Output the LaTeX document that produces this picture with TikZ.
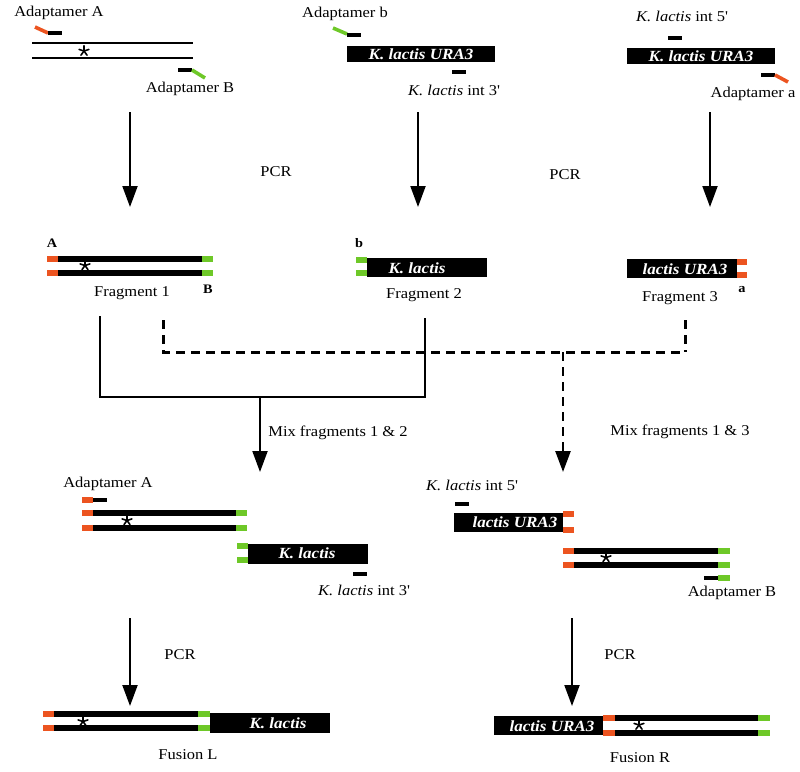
\documentclass[tikz,border=0pt]{standalone}
\usepackage{fontspec}
\setmainfont{Liberation Serif}[FakeStretch=1.1]
\usetikzlibrary{arrows.meta}
\definecolor{orn}{RGB}{236,84,32}
\definecolor{grn}{RGB}{110,200,40}
\newcommand\seg[4]{\fill[#4] (#1,#3-2.7) rectangle (#2,#3+2.7);}
\newcommand\prim[3]{\fill[#3] (#1,#2-2.2) rectangle (#1+14,#2+2.2);}
\begin{document}
\begin{tikzpicture}[x=1pt,y=-1pt,
  lbl/.style={font=\fontsize{15}{18}\selectfont, inner sep=0},
  sml/.style={font=\bfseries\fontsize{13}{15}\selectfont, inner sep=0},
  kbox/.style={fill=black, draw=none, inner sep=0, minimum height=19pt},
  ktxt/.style={text=white, font=\bfseries\itshape\fontsize{15.5}{18}\selectfont, inner sep=0},
  astar/.pic={\foreach \a in {90,162,234,306,18} \draw[line width=1.6pt, line cap=round] (0,0) -- (\a:5.2pt);},
  tailA/.style={line width=3.6pt},
  thinl/.style={line width=1.5pt},
  conn/.style={line width=2pt},
  dconn/.style={line width=3pt, dash pattern=on 9pt off 6pt},
  arr/.style={line width=2pt, -{Triangle[length=21pt,width=15pt]}}
]
\useasboundingbox (0,0) rectangle (800,771);

% ---------- top left ----------
\node[lbl] (adA) at (59,13) {Adaptamer A};
\draw[tailA, orn] (35,27) -- (48,33);
\prim{48}{33}{black}
\draw[thinl] (32,43) -- (193,43);
\draw[thinl] (32,58) -- (193,58);
\pic at (84,51) {astar};
\prim{178}{70}{black}
\draw[tailA, grn] (192,70) -- (205,78);
\node[lbl] (adB) at (190,89) {Adaptamer B};

% ---------- top middle ----------
\node[lbl] (adb) at (345,14) {Adaptamer b};
\draw[tailA, grn] (333,28) -- (347,34);
\prim{347}{35}{black}
\node[kbox, minimum width=148pt, minimum height=16pt] (boxT2) at (421,54) {};
\node[ktxt] (txtT2) at (421,54) {K. lactis URA3};
\prim{452}{72}{black}
\node[lbl] (int3a) at (454,90) {\textit{K. lactis} int 3\textquotesingle};

% ---------- top right ----------
\node[lbl] (int5a) at (682,16) {\textit{K. lactis} int 5\textquotesingle};
\prim{668}{38}{black}
\node[kbox, minimum width=148pt, minimum height=16pt] (boxT3) at (701,56) {};
\node[ktxt] (txtT3) at (701,56) {K. lactis URA3};
\prim{761}{75}{black}
\draw[tailA, orn] (775,75) -- (788,82);
\node[lbl] (ada) at (753,94) {Adaptamer a};

% ---------- PCR arrows ----------
\coordinate (a1s) at (130,112); \coordinate (a1e) at (130,207);
\coordinate (a2s) at (418,112); \coordinate (a2e) at (418,207);
\coordinate (a3s) at (710,112); \coordinate (a3e) at (710,207);
\draw[arr] (a1s) -- (a1e);
\draw[arr] (a2s) -- (a2e);
\draw[arr] (a3s) -- (a3e);
\node[lbl] (pcr1) at (276,172) {PCR};
\node[lbl] (pcr2) at (565,175) {PCR};

% ---------- Fragment 1 ----------
\node[sml] (lA) at (52,243) {A};
\seg{47}{58}{259}{orn}\seg{58}{202}{259}{black}\seg{202}{213}{259}{grn}
\seg{47}{58}{273}{orn}\seg{58}{202}{273}{black}\seg{202}{213}{273}{grn}
\pic at (85,265.5) {astar};
\node[sml] (lB) at (208,289) {B};
\node[lbl] (fr1) at (132,293) {Fragment 1};

% ---------- Fragment 2 ----------
\node[sml] (lb) at (359,243) {b};
\seg{356}{367}{260}{grn}\seg{356}{367}{273}{grn}
\node[kbox, minimum width=120pt] (boxF2) at (427,267.5) {};
\node[ktxt] (txtF2) at (417,268) {K. lactis};
\node[lbl] (fr2) at (424,295) {Fragment 2};

% ---------- Fragment 3 ----------
\node[kbox, minimum width=110pt] (boxF3) at (682,268.5) {};
\node[ktxt] (txtF3) at (685,269) {lactis URA3};
\seg{737}{747}{262}{orn}\seg{737}{747}{275}{orn}
\node[sml] (la) at (742,290) {a};
\node[lbl] (fr3) at (680,298) {Fragment 3};

% ---------- mixing connectors ----------
\coordinate (s1) at (100,316); \coordinate (s1b) at (100,397);
\coordinate (s2) at (425,318); \coordinate (s2b) at (425,397);
\coordinate (sm) at (260,397); \coordinate (sme) at (260,472);
\draw[conn] (s1) -- (s1b) -- (s2b) -- (s2);
\draw[arr] (sm) -- (sme);
\coordinate (d1) at (163,320); \coordinate (d1b) at (163,352);
\coordinate (d3) at (685,320); \coordinate (d3b) at (685,352);
\coordinate (dm) at (563,352); \coordinate (dme) at (563,472);
\draw[dconn] (d1) -- (d1b) -- (d3b);
\draw[dconn] (d3) -- (d3b);
\draw[dconn, line width=2.5pt, -{Triangle[length=21pt,width=15pt]}] (dm) -- (dme);
\node[lbl] (mix12) at (338,433) {Mix fragments 1 \& 2};
\node[lbl] (mix13) at (680,432) {Mix fragments 1 \& 3};

% ---------- mix left ----------
\node[lbl] (adA2) at (108,484) {Adaptamer A};
\seg{82}{93}{500}{orn}\fill (93,497.8) rectangle (107,502.2);
\seg{82}{93}{513}{orn}\seg{93}{236}{513}{black}\seg{236}{247}{513}{grn}
\seg{82}{93}{528}{orn}\seg{93}{236}{528}{black}\seg{236}{247}{528}{grn}
\pic at (127,520.5) {astar};
\seg{237}{248}{546}{grn}\seg{237}{248}{560}{grn}
\node[kbox, minimum width=120pt, minimum height=20pt] (boxML) at (308,554) {};
\node[ktxt] (txtML) at (307,553) {K. lactis};
\prim{353}{574}{black}
\node[lbl] (int3b) at (364,590) {\textit{K. lactis} int 3\textquotesingle};

% ---------- mix right ----------
\node[lbl] (int5b) at (472,485) {\textit{K. lactis} int 5\textquotesingle};
\prim{455}{504}{black}
\node[kbox, minimum width=109pt] (boxMR) at (508.5,522.5) {};
\node[ktxt] (txtMR) at (515,522) {lactis URA3};
\seg{563}{574}{514}{orn}\seg{563}{574}{530}{orn}
\seg{563}{574}{551}{orn}\seg{574}{718}{551}{black}\seg{718}{730}{551}{grn}
\seg{563}{574}{565}{orn}\seg{574}{718}{565}{black}\seg{718}{730}{565}{grn}
\pic at (606,557.5) {astar};
\fill (704,575.8) rectangle (718,580.2);\seg{718}{730}{578}{grn}
\node[lbl] (adB2) at (732,593) {Adaptamer B};

% ---------- PCR arrows bottom ----------
\coordinate (b1s) at (130,618); \coordinate (b1e) at (130,706);
\coordinate (b2s) at (572,618); \coordinate (b2e) at (572,706);
\draw[arr] (b1s) -- (b1e);
\draw[arr] (b2s) -- (b2e);
\node[lbl] (pcr3) at (180,655) {PCR};
\node[lbl] (pcr4) at (620,655) {PCR};

% ---------- Fusion L ----------
\seg{43}{54}{714}{orn}\seg{54}{198}{714}{black}\seg{198}{210}{714}{grn}
\seg{43}{54}{728}{orn}\seg{54}{198}{728}{black}\seg{198}{210}{728}{grn}
\pic at (83,721.5) {astar};
\node[kbox, minimum width=120pt, minimum height=20pt] (boxFL) at (270,723) {};
\node[ktxt] (txtFL) at (278,723) {K. lactis};
\node[lbl] (fusL) at (188,755) {Fusion L};

% ---------- Fusion R ----------
\node[kbox, minimum width=109pt, minimum height=19pt] (boxFR) at (548.5,725) {};
\node[ktxt] (txtFR) at (552,726) {lactis URA3};
\seg{603}{615}{718}{orn}\seg{615}{758}{718}{black}\seg{758}{770}{718}{grn}
\seg{603}{615}{733}{orn}\seg{615}{758}{733}{black}\seg{758}{770}{733}{grn}
\pic at (639,725) {astar};
\node[lbl] (fusR) at (640,758) {Fusion R};
\end{tikzpicture}
\end{document}
